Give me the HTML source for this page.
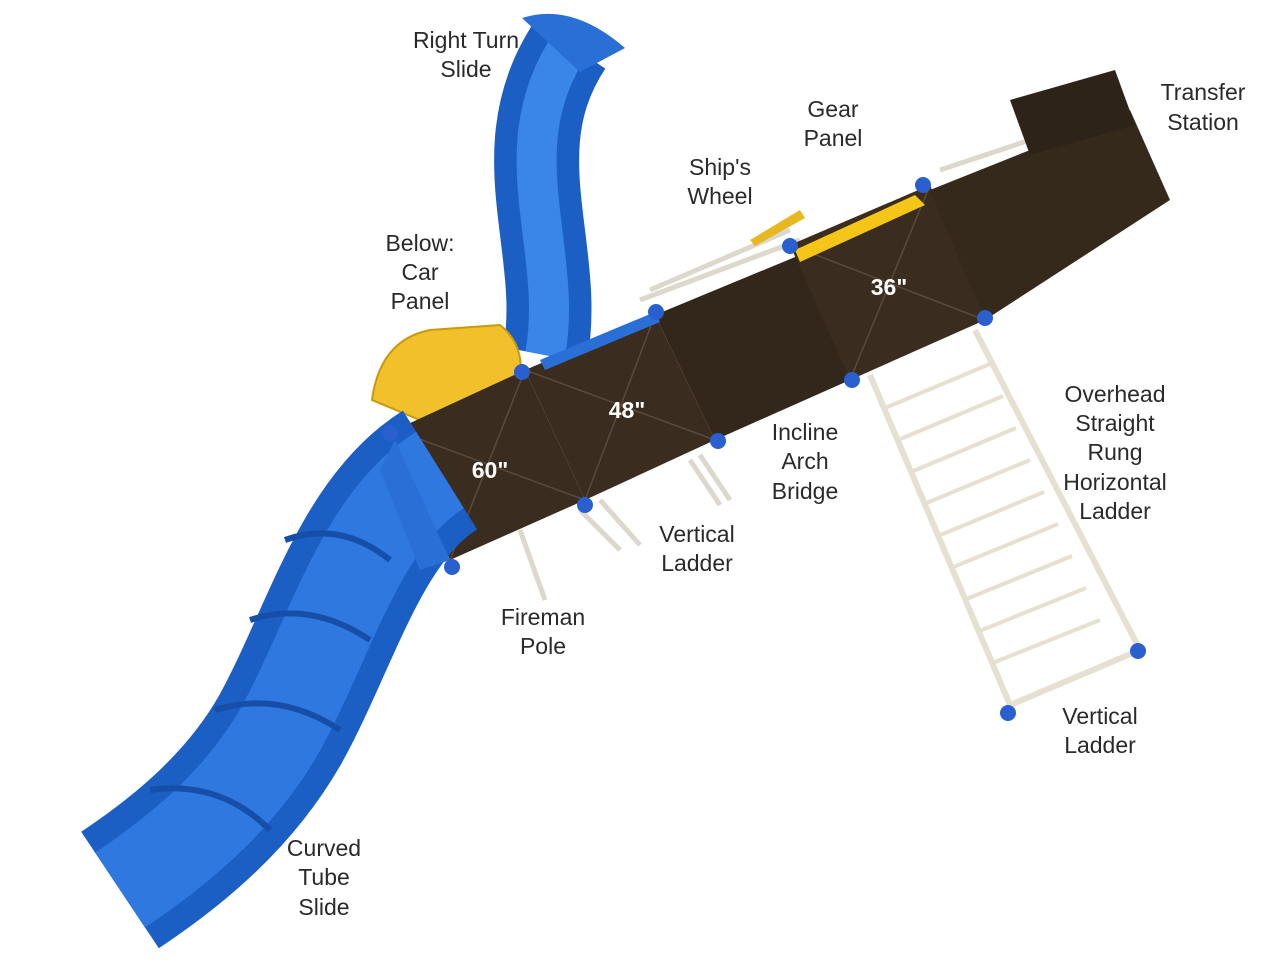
<!DOCTYPE html>
<html><head><meta charset="utf-8"><style>
body{margin:0;width:1280px;height:961px;background:#fff;overflow:hidden}
svg{position:absolute;left:0;top:0}
text{font-family:"Liberation Sans",sans-serif;font-size:23px;fill:#2a2a2a;text-anchor:middle}
.w{fill:#fff;font-weight:bold;font-size:23px}
</style></head><body>
<svg width="1280" height="961" viewBox="0 0 1280 961">
<g stroke="#ddd8cc" stroke-width="5" fill="none">
<path d="M640,300 L800,240 M650,290 L790,230"/>
<path d="M940,170 L1030,140"/>
<path d="M580,510 L620,550 M600,500 L640,545 M690,460 L720,505 M700,455 L730,500"/>
<path d="M520,530 L545,600"/>
</g>
<!-- Right turn slide -->
<path d="M545,355 C565,250 500,150 570,45" stroke="#1b5fc4" stroke-width="85" fill="none"/>
<path d="M545,355 C565,250 500,150 570,45" stroke="#3a85e8" stroke-width="40" fill="none"/>
<path d="M522,18 Q572,2 625,48 L580,72 Z" fill="#2a6fd6"/>
<!-- car panel -->
<path d="M372,400 Q380,340 430,330 L500,325 Q525,345 520,380 L420,420 Z" fill="#f2c02a" stroke="#c89a10" stroke-width="2"/>
<!-- deck sections -->
<path d="M395,430 L525,370 L585,500 L450,560 Z" fill="#3a2c1e"/>
<path d="M525,370 L655,315 L715,440 L585,500 Z" fill="#3a2c1e"/>
<path d="M655,315 L800,255 L850,380 L715,440 Z" fill="#33271b"/>
<path d="M790,245 L930,185 L985,320 L850,380 Z" fill="#3a2c1e"/>
<path d="M930,190 L1130,110 L1170,200 L985,320 Z" fill="#35291c"/>
<path d="M1010,100 L1115,70 L1135,125 L1030,155 Z" fill="#2e2318"/>
<g stroke="#5a4a3a" stroke-width="1.5">
<path d="M395,430 L585,500 M525,370 L450,560 M525,370 L715,440 M655,315 L585,500 M790,245 L985,320 M930,185 L850,380"/>
</g>
<path d="M795,250 L915,195 L925,205 L800,262 Z" fill="#f5c518"/>
<path d="M750,240 L800,210 L805,218 L755,246 Z" fill="#e8b820"/>
<path d="M540,360 L655,312 L660,322 L545,370 Z" fill="#2a6fd6"/>
<!-- curved tube slide -->
<path d="M440,470 C360,520 330,640 280,730 C240,800 180,850 120,890" stroke="#1b5fc4" stroke-width="140" fill="none"/>
<path d="M440,470 C360,520 330,640 280,730 C240,800 180,850 120,890" stroke="#2f78e0" stroke-width="90" fill="none"/>
<path d="M395,440 L450,560 L420,570 L380,470 Z" fill="#2a6fd6"/>
<g stroke="#174fa8" stroke-width="6" fill="none">
<path d="M285,540 Q340,520 390,560"/><path d="M250,620 Q310,600 370,640"/><path d="M215,710 Q280,690 340,730"/><path d="M150,790 Q220,780 270,830"/>
</g>
<!-- ladder -->
<g stroke="#e6e0d0" stroke-width="6" fill="none">
<path d="M870,375 L1010,705 M975,330 L1140,650 M1010,705 L1140,650"/>
</g>
<g stroke="#e6e0d0" stroke-width="4">
<path d="M885,408 L990,364 M898,440 L1003,396 M911,472 L1016,428 M924,504 L1030,460 M938,536 L1044,492 M951,568 L1058,524 M964,600 L1072,556 M977,632 L1086,588 M990,664 L1100,620"/>
</g>
<g fill="#2a5fd0">
<circle cx="390" cy="433" r="8"/><circle cx="522" cy="372" r="8"/><circle cx="656" cy="312" r="8"/><circle cx="585" cy="505" r="8"/><circle cx="452" cy="567" r="8"/><circle cx="718" cy="441" r="8"/><circle cx="852" cy="380" r="8"/><circle cx="985" cy="318" r="8"/><circle cx="790" cy="246" r="8"/><circle cx="923" cy="185" r="8"/><circle cx="1008" cy="713" r="8"/><circle cx="1138" cy="651" r="8"/>
</g>
<text class="w" x="490" y="478">60"</text>
<text class="w" x="627" y="418">48"</text>
<text class="w" x="889" y="295">36"</text>
<text x="466" y="48">Right Turn</text><text x="466" y="77">Slide</text>
<text x="833" y="117">Gear</text><text x="833" y="146">Panel</text>
<text x="1203" y="100">Transfer</text><text x="1203" y="130">Station</text>
<text x="720" y="175">Ship's</text><text x="720" y="204">Wheel</text>
<text x="420" y="251">Below:</text><text x="420" y="280">Car</text><text x="420" y="309">Panel</text>
<text x="1115" y="402">Overhead</text><text x="1115" y="431">Straight</text><text x="1115" y="460">Rung</text><text x="1115" y="490">Horizontal</text><text x="1115" y="519">Ladder</text>
<text x="805" y="440">Incline</text><text x="805" y="469">Arch</text><text x="805" y="499">Bridge</text>
<text x="697" y="542">Vertical</text><text x="697" y="571">Ladder</text>
<text x="543" y="625">Fireman</text><text x="543" y="654">Pole</text>
<text x="1100" y="724">Vertical</text><text x="1100" y="753">Ladder</text>
<text x="324" y="856">Curved</text><text x="324" y="885">Tube</text><text x="324" y="915">Slide</text>
</svg>
</body></html>
